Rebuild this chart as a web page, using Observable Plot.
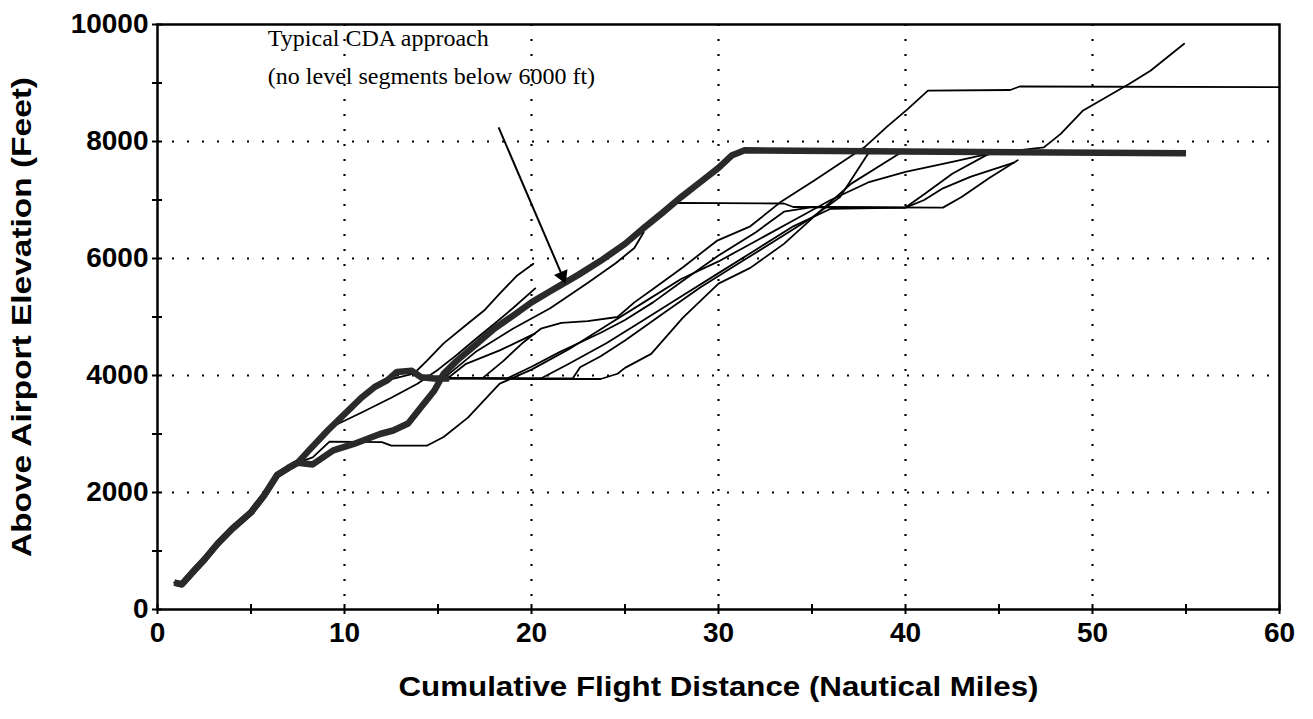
<!DOCTYPE html>
<html><head><meta charset="utf-8">
<script src="https://cdn.jsdelivr.net/npm/d3@7"></script>
<script src="https://cdn.jsdelivr.net/npm/@observablehq/plot@0.6"></script>
<style>html,body{margin:0;padding:0;background:#fff;} svg{display:block}</style>
</head><body><div id="chart"></div>
<script>
// ---- tick values ----
const xTickLabels = [0, 10, 20, 30, 40, 50, 60];
const yTickLabels = [0, 2000, 4000, 6000, 8000, 10000];
const xMinorTicks = [0, 5, 10, 15, 20, 25, 30, 35, 40, 45, 50, 55, 60];
const yMinorTicks = [0, 1000, 2000, 3000, 4000, 5000, 6000, 7000, 8000, 9000, 10000];
const xGrid = [10, 20, 30, 40, 50];
const yGrid = [2000, 4000, 6000, 8000];

const xTitle = "Cumulative Flight Distance (Nautical Miles)";
const yTitle = "Above Airport Elevation (Feet)";
const noteText = "Typical CDA approach\n(no level segments below 6000 ft)";
const noteAnchor = [5.9, 8990];
const arrowFrom = [18.24, 8240];
const arrowTo = [21.8, 5590];

// ---- flight tracks [distance nm, altitude ft] ----
const commonStart = [[0.9,460],[1.3,430],[2,680],[2.5,850],[3.2,1120],[4,1380],[5,1660],[5.7,1950],[6.4,2300],[7,2420],[7.5,2510]];
const humpPath = [[8.1,2720],[9.1,3060],[10,3340],[10.9,3620],[11.6,3800],[12.3,3920],[12.8,4060],[13.6,4080],[14.1,3970],[14.8,3950]];
const typicalCDA = [[8.3,2480],[9.4,2720],[10.5,2830],[11.9,3000],[12.6,3060],[13.4,3180],[14.1,3460],[14.8,3740],[15.3,4030],[16,4250],[17,4520],[18,4800],[19,5020],[20,5250],[21,5440],[21.7,5570],[22.5,5720],[23.7,5960],[25,6250],[26,6520],[27,6780],[28,7050],[29,7300],[30,7550],[30.7,7760],[31.4,7850],[40,7830],[55,7800]];
const typicalCDAtoLevel = [[8.3,2480],[9.4,2720],[10.5,2830],[11.9,3000],[12.6,3060],[13.4,3180],[14.1,3460],[14.8,3740],[15.3,4030],[16,4250],[17,4520],[18,4800],[19,5020],[20,5250],[21,5440],[21.7,5570],[22.5,5720],[23.7,5960],[25,6250],[26,6520],[27,6780],[27.8,6950],[33.5,6940],[34,6880],[42,6870],[43,7050],[44.5,7380],[46,7680]];
const humpEnd = [[15.6,3950]];
const levelClimbLow = [[17,3950],[20,3940],[23.7,3940],[24.6,4030],[25,4130],[26.4,4370],[28.1,4990],[30,5570],[31.7,5840],[33.5,6250],[35.3,6770],[37.1,7280],[38.8,7620],[39.7,7800]];
const level4900Climb = [[17.4,3960],[18.5,4250],[19.5,4550],[20.5,4800],[21.6,4900],[23,4930],[24.6,5000],[25.5,5250],[26.5,5480],[28.1,5850],[29.9,6300],[31.7,6550],[33.3,6960],[35.1,7330],[37.8,7900],[39,8250],[40.1,8550],[41.2,8870],[45.6,8880],[46.1,8940],[60,8930]];
const stubUpper = [[9.5,3150],[11,3380],[12.5,3620],[13.9,3860],[15,4100],[16,4350],[17,4620],[18,4880],[19,5150],[20.2,5490]];
const stubTop = [[13.7,4030],[14.4,4250],[15.3,4550],[16.6,4890],[17.5,5120],[18.3,5400],[19.2,5700],[20.1,5910]];
const stubLow = [[15.5,3950],[16.5,4200],[18.3,4430],[20.2,4720]];
const levelClimbMid = [[18.7,3950],[20,4150],[21.5,4400],[23.7,4730],[25,4950],[26.5,5250],[28,5600],[30,6050],[32,6450],[33.5,6800],[35,6880],[40,6870],[41,7100],[42.5,7450],[44.4,7780]];
const levelClimbLate = [[22.2,3950],[22.6,4140],[23.7,4330],[25,4600],[27,5050],[29,5500],[31,5900],[33,6300],[35,6700],[36.5,7050],[38.1,7840]];
const levelClimbLate2 = [[20.5,3950],[22,4200],[24,4550],[26,4950],[28,5350],[30,5750],[32,6150],[34,6550],[36,6850],[40,6870],[41,7000],[42,7200],[43.5,7400],[45.8,7640]];
const lowLevelClimbHigh = [[8.3,2600],[9.2,2870],[12,2860],[12.5,2800],[14.4,2800],[15.3,2950],[16.6,3280],[18.3,3860],[20,4100],[22,4450],[24,4850],[26,5250],[28,5650],[30,5950],[32,6300],[34,6650],[36,7000],[38,7300],[40,7480],[42.5,7650],[44,7760],[46,7850],[47.4,7900],[48.3,8130],[49.5,8530],[52,8990],[53.1,9210],[54.9,9670]];
const belowCDA = [[15.3,3950],[17,4400],[19,4800],[21,5150],[23,5580],[24.5,5920],[25.5,6180],[26,6450]];

const thinTracks = {
  t1: humpPath.concat(levelClimbLow),
  t2: humpPath.concat(level4900Climb),
  t3: stubUpper,
  t4: humpPath.slice(0, 6).concat(stubTop),
  t5: humpPath.concat(stubLow),
  t6: humpPath.concat(levelClimbMid),
  t7: humpPath.concat(levelClimbLate),
  t8: humpPath.concat(levelClimbLate2),
  t9: commonStart.concat(lowLevelClimbHigh),
  t10: commonStart.concat(typicalCDAtoLevel),
  t11: belowCDA
};
const thickTracks = {
  hump: commonStart.concat(humpPath, humpEnd),
  cda: commonStart.concat(typicalCDA)
};

const toRows = (obj) => Object.entries(obj).flatMap(([id, pts]) => pts.map(([x, y]) => ({id, x, y})));
const thinRows = toRows(thinTracks);
const thickRows = toRows(thickTracks);

const W = 1313, H = 719;
const mL = 157, mR = 34, mT = 24, mB = 110;
const pxPerX = (W - mL - mR) / 60, pxPerY = (H - mT - mB) / 10000;
const halfTickX = 5 / pxPerX;
const halfTickY = 5 / pxPerY;

// filled arrow head: placed a little back from the tip, rotated along the shaft
const adx = (arrowTo[0] - arrowFrom[0]) * pxPerX, ady = -(arrowTo[1] - arrowFrom[1]) * pxPerY;
const alen = Math.hypot(adx, ady);
const backFrac = 7 / alen;
const headPos = [arrowTo[0] - (arrowTo[0] - arrowFrom[0]) * backFrac, arrowTo[1] - (arrowTo[1] - arrowFrom[1]) * backFrac];
const headRot = 180 - Math.atan2(adx, ady) * 180 / Math.PI;

const chart = Plot.plot({
  width: W, height: H,
  marginLeft: mL, marginRight: mR, marginTop: mT, marginBottom: mB,
  x: {domain: [0, 60], axis: null},
  y: {domain: [0, 10000], axis: null},
  style: {fontFamily: "'Liberation Sans', Arial, sans-serif", background: "white", color: "black"},
  marks: [
    Plot.ruleX(xGrid, {x: d => d, stroke: "black", strokeWidth: 2.2, strokeDasharray: "2,13"}),
    Plot.ruleY(yGrid, {y: d => d, stroke: "black", strokeWidth: 2.2, strokeDasharray: "2,13"}),
    Plot.line(thinRows, {x: "x", y: "y", z: "id", stroke: "black", strokeWidth: 1.8, strokeLinejoin: "round"}),
    Plot.line(thickRows, {x: "x", y: "y", z: "id", stroke: "#2a2a2a", strokeWidth: 6.5, strokeLinejoin: "round", strokeLinecap: "butt"}),
    Plot.frame({stroke: "black", strokeWidth: 2.5}),
    Plot.ruleY(yMinorTicks, {y: d => d, x1: -halfTickX, x2: halfTickX, stroke: "black", strokeWidth: 2}),
    Plot.ruleX(xMinorTicks, {x: d => d, y1: -halfTickY, y2: halfTickY, stroke: "black", strokeWidth: 2}),
    Plot.text(xTickLabels, {x: d => d, frameAnchor: "bottom", lineAnchor: "top", dy: 13, text: d => String(d), fontSize: 28, fontWeight: "bold", fill: "black"}),
    Plot.text(yTickLabels, {y: d => d, frameAnchor: "left", textAnchor: "end", dx: -9, text: d => String(d), fontSize: 28, fontWeight: "bold", fill: "black"}),
    Plot.text([xTitle], {frameAnchor: "bottom", dy: 86, text: d => d, fontSize: 27, fontWeight: "bold", fill: "black", className: "xtitle"}),
    Plot.text([yTitle], {frameAnchor: "left", dx: -135, rotate: -90, textAnchor: "middle", text: d => d, fontSize: 27, fontWeight: "bold", fill: "black", className: "ytitle"}),
    Plot.text([noteText], {x: () => noteAnchor[0], y: () => noteAnchor[1], text: d => d, textAnchor: "start", lineAnchor: "bottom", lineHeight: 1.55, fontSize: 24, fontFamily: "'Liberation Serif', 'Times New Roman', serif", fill: "black"}),
    Plot.link([0], {x1: () => arrowFrom[0], y1: () => arrowFrom[1], x2: () => headPos[0], y2: () => headPos[1], stroke: "black", strokeWidth: 2}),
    Plot.dot([0], {x: () => headPos[0], y: () => headPos[1], symbol: "triangle2", r: 7, fill: "black", stroke: "none", rotate: headRot})
  ]
});
// stretch the axis titles to the width they have in the reference
d3.select(chart).selectAll("g.xtitle text").attr("textLength", 640).attr("lengthAdjust", "spacingAndGlyphs");
d3.select(chart).selectAll("g.ytitle text").attr("textLength", 480).attr("lengthAdjust", "spacingAndGlyphs");
document.getElementById("chart").appendChild(chart);
</script>
</body></html>
